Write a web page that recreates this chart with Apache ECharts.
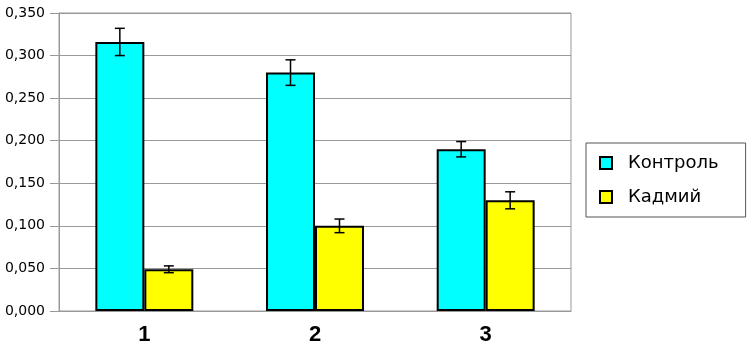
<!DOCTYPE html>
<html><head><meta charset="utf-8">
<script src="https://cdn.jsdelivr.net/npm/echarts@6/dist/echarts.min.js"></script>
<style>html,body{margin:0;padding:0;background:#fff}#c{width:752px;height:349px}</style>
</head><body><div id="c"></div>
<script>
const categories = ['1', '2', '3'];
const controlValues = [0.316, 0.280, 0.190];
const controlErrors = [0.016, 0.015, 0.009];
const cadmiumValues = [0.049, 0.100, 0.130];
const cadmiumErrors = [0.004, 0.008, 0.010];
const seriesNames = ['Контроль', 'Кадмий'];
const yTicks = [0, 0.05, 0.1, 0.15, 0.2, 0.25, 0.3, 0.35];

const catGap = 0.426;
function errSeries(values, errors, side) {
  return {
    type: 'custom',
    silent: true,
    z: 10,
    data: values.map((v, i) => [i, v, errors[i]]),
    renderItem: function (params, api) {
      const idx = api.value(0), v = api.value(1), e = api.value(2);
      const catW = api.size([1, 0])[0];
      const barW = catW * (1 - catGap) / 2;
      const c = api.coord([idx, v]);
      const x = c[0] + side * barW / 2;
      const top = api.coord([idx, v + e])[1];
      const bot = api.coord([idx, v - e])[1];
      const cap = 5;
      const st = { stroke: '#000', lineWidth: 1.5 };
      return { type: 'group', children: [
        { type: 'line', shape: { x1: x, y1: top, x2: x, y2: bot }, style: st },
        { type: 'line', shape: { x1: x - cap, y1: top, x2: x + cap, y2: top }, style: st },
        { type: 'line', shape: { x1: x - cap, y1: bot, x2: x + cap, y2: bot }, style: st }
      ]};
    }
  };
}

const chart = echarts.init(document.getElementById('c'), null, { renderer: 'canvas' });
chart.setOption({
  animation: false,
  grid: { left: 59, right: 181, top: 13, bottom: 38, show: true, borderColor: '#999', borderWidth: 1 },
  legend: {
    orient: 'vertical', left: 586, top: 143,
    padding: [9, 27, 9, 13],
    borderColor: '#555', borderWidth: 1,
    itemWidth: 12, itemHeight: 12, itemGap: 12, icon: 'rect',
    textStyle: { fontFamily: 'DejaVu Sans, sans-serif', fontSize: 18, color: '#000', lineHeight: 22, padding: [0, 0, 0, 11] },
    data: seriesNames
  },
  xAxis: {
    type: 'category', data: categories,
    axisLine: { show: true, lineStyle: { color: '#999', width: 1 } },
    axisTick: { show: false },
    axisLabel: { fontFamily: 'Liberation Sans, Arial, sans-serif', fontSize: 22, fontWeight: 'bold', color: '#000', margin: 13 }
  },
  yAxis: {
    type: 'value', min: 0, max: 0.35, interval: 0.05,
    axisLine: { show: true, lineStyle: { color: '#999' } },
    axisTick: { show: true, length: 9, lineStyle: { color: '#999' } },
    splitLine: { lineStyle: { color: '#999', width: 1 } },
    axisLabel: {
      fontFamily: 'DejaVu Sans, sans-serif', fontSize: 14, color: '#000', margin: 14,
      formatter: v => { const t = yTicks.find(k => Math.abs(k - v) < 1e-9); return (t !== undefined ? t : v).toFixed(3).replace('.', ','); }
    }
  },
  series: [
    { name: seriesNames[0], type: 'bar', data: controlValues, barGap: '0%', barCategoryGap: (catGap * 100) + '%',
      itemStyle: { color: '#00ffff', borderColor: '#000', borderWidth: 2 } },
    { name: seriesNames[1], type: 'bar', data: cadmiumValues, barGap: '0%', barCategoryGap: (catGap * 100) + '%',
      itemStyle: { color: '#ffff00', borderColor: '#000', borderWidth: 2 } },
    errSeries(controlValues, controlErrors, -1),
    errSeries(cadmiumValues, cadmiumErrors, 1)
  ]
});
</script></body></html>
